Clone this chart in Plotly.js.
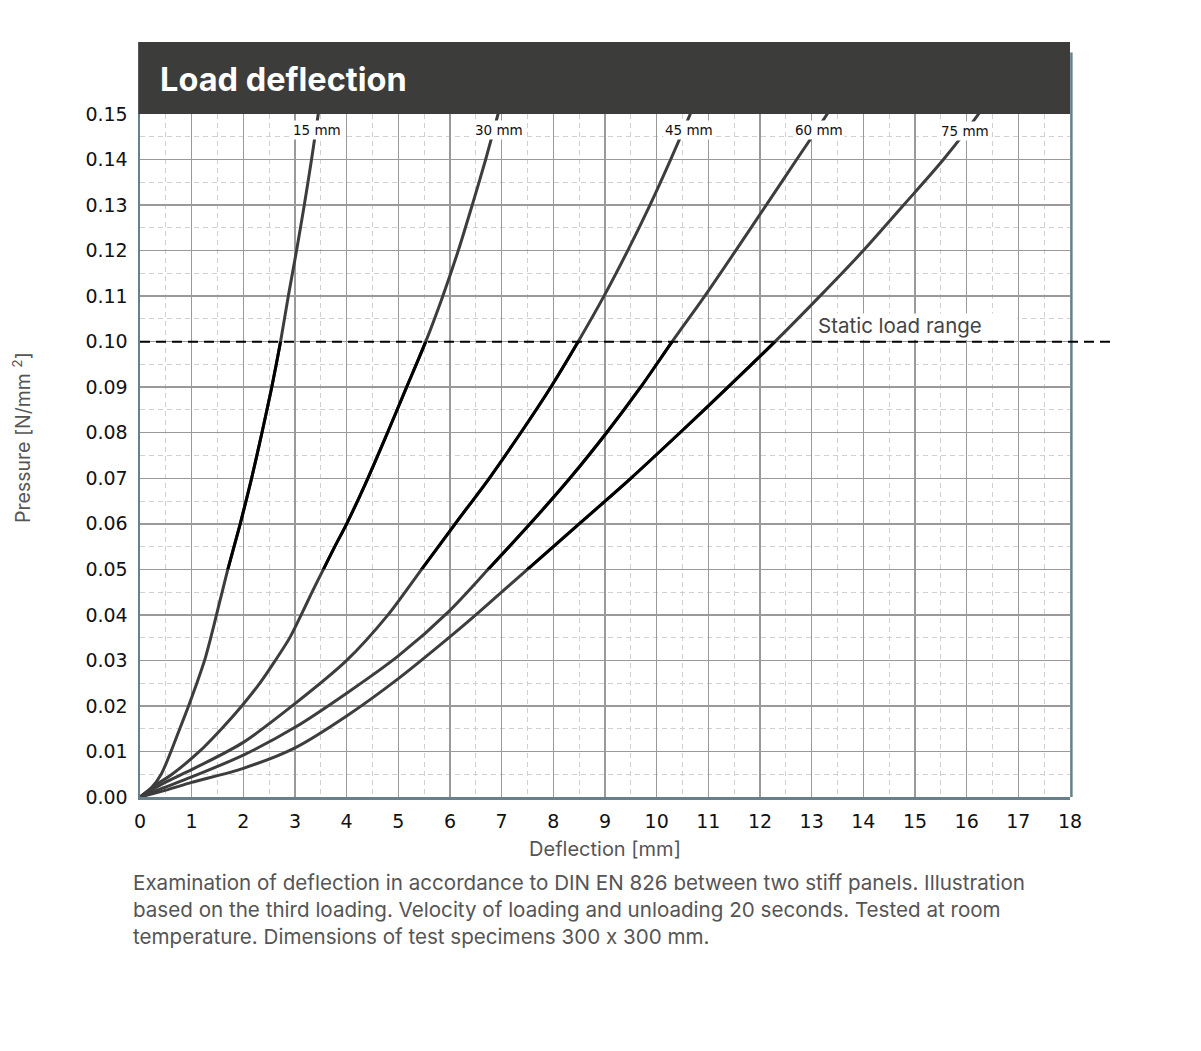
<!DOCTYPE html>
<html>
<head>
<meta charset="utf-8">
<script src="https://cdn.plot.ly/plotly-3.0.1.min.js"></script>
<style>
html,body{margin:0;padding:0;background:#fff;}
#chart{width:1201px;height:1051px;}
#chart text{font-feature-settings:"calt" 0;}
</style>
</head>
<body>
<div id="chart"></div>
<script>
// ---- Data ----
const seriesNames = ['15 mm', '30 mm', '45 mm', '60 mm', '75 mm'];

const pressure15   = [0, 0.002, 0.005, 0.01, 0.015, 0.02, 0.025, 0.03, 0.035, 0.04, 0.045, 0.05, 0.06, 0.07, 0.08, 0.09, 0.10, 0.11, 0.12, 0.13, 0.14, 0.15, 0.153];
const deflection15 = [0, 0.22, 0.41, 0.60, 0.77, 0.94, 1.10, 1.25, 1.37, 1.48, 1.59, 1.70, 1.94, 2.16, 2.36, 2.55, 2.72, 2.87, 3.03, 3.18, 3.32, 3.45, 3.49];

const pressure30   = [0, 0.003, 0.005, 0.01, 0.015, 0.02, 0.025, 0.03, 0.035, 0.04, 0.045, 0.05, 0.055, 0.06, 0.07, 0.08, 0.09, 0.10, 0.11, 0.12, 0.13, 0.14, 0.15, 0.153];
const deflection30 = [0, 0.35, 0.62, 1.15, 1.58, 1.97, 2.32, 2.62, 2.90, 3.12, 3.33, 3.55, 3.77, 4.00, 4.41, 4.79, 5.16, 5.53, 5.86, 6.16, 6.43, 6.69, 6.93, 7.00];

const pressure45   = [0, 0.003, 0.006, 0.012, 0.0205, 0.03, 0.04, 0.05, 0.06, 0.07, 0.08, 0.09, 0.10, 0.11, 0.12, 0.13, 0.14, 0.15, 0.153];
const deflection45 = [0, 0.45, 1.00, 2.00, 3.00, 4.00, 4.80, 5.45, 6.10, 6.76, 7.37, 7.95, 8.48, 8.98, 9.44, 9.87, 10.27, 10.65, 10.75];

const pressure60   = [0, 0.002, 0.0044, 0.0092, 0.0153, 0.0228, 0.031, 0.041, 0.05, 0.06, 0.07, 0.08, 0.09, 0.10, 0.11, 0.12, 0.13, 0.14, 0.15, 0.153];
const deflection60 = [0, 0.45, 1.00, 2.00, 3.00, 4.00, 5.00, 6.00, 6.74, 7.55, 8.32, 9.03, 9.69, 10.30, 10.93, 11.53, 12.12, 12.71, 13.30, 13.45];

const pressure75   = [0, 0.0015, 0.0032, 0.0063, 0.0108, 0.0178, 0.026, 0.035, 0.04, 0.05, 0.06, 0.07, 0.08, 0.09, 0.10, 0.11, 0.12, 0.13, 0.14, 0.15, 0.153];
const deflection75 = [0, 0.50, 1.00, 2.00, 3.00, 4.00, 5.00, 5.98, 6.50, 7.50, 8.50, 9.50, 10.45, 11.38, 12.29, 13.16, 14.00, 14.78, 15.55, 16.23, 16.40];

const staticLoad = 0.10;
const bandLow = 0.05;
const staticLoadLabel = 'Static load range';
const xTicks = [0,1,2,3,4,5,6,7,8,9,10,11,12,13,14,15,16,17,18];
const yTicks = [0,0.01,0.02,0.03,0.04,0.05,0.06,0.07,0.08,0.09,0.10,0.11,0.12,0.13,0.14,0.15];
const captionLines = [
  'Examination of deflection in accordance to DIN EN 826 between two stiff panels. Illustration',
  'based on the third loading. Velocity of loading and unloading 20 seconds. Tested at room',
  'temperature. Dimensions of test specimens 300 x 300 mm.'
];

// ---- Build traces ----
const series = [
  {name: seriesNames[0], x: deflection15, y: pressure15},
  {name: seriesNames[1], x: deflection30, y: pressure30},
  {name: seriesNames[2], x: deflection45, y: pressure45},
  {name: seriesNames[3], x: deflection60, y: pressure60},
  {name: seriesNames[4], x: deflection75, y: pressure75}
];

const traces = [];
series.forEach(s => {
  traces.push({
    type: 'scatter', mode: 'lines', name: s.name, x: s.x, y: s.y,
    xaxis: 'x', yaxis: 'y',
    line: {color: '#3d3d3d', width: 3, shape: 'spline', smoothing: 0.8},
    hoverinfo: 'skip', showlegend: false
  });
});
// same curves drawn black, clipped to the 0.05–0.10 band by a second subplot
series.forEach(s => {
  traces.push({
    type: 'scatter', mode: 'lines', name: s.name + ' band', x: s.x, y: s.y,
    xaxis: 'x2', yaxis: 'y2',
    line: {color: '#000000', width: 3, shape: 'spline', smoothing: 0.8},
    hoverinfo: 'skip', showlegend: false
  });
});

// label placement (layout only)
const labelPos = [[3.43, 0.1464], [6.95, 0.1464], [10.63, 0.1464], [13.14, 0.1464], [15.97, 0.1462]];

const annotations = seriesNames.map((n, i) => ({
  x: labelPos[i][0], y: labelPos[i][1], xref: 'x', yref: 'y',
  text: n, showarrow: false, bgcolor: '#ffffff', borderpad: 1,
  font: {family: 'DejaVu Sans, sans-serif', size: 13.5, color: '#111'}
}));

annotations.push({
  x: 13.08, y: 0.1036, xref: 'x', yref: 'y', xanchor: 'left', yanchor: 'middle',
  text: staticLoadLabel, showarrow: false,
  font: {family: 'Inter, sans-serif', size: 20.5, color: '#444'}
});

annotations.push({
  x: -0.127, y: 0.527, xref: 'paper', yref: 'paper', xanchor: 'center', yanchor: 'middle',
  text: 'Pressure [N/mm <sup>2</sup>]', textangle: -90, showarrow: false,
  font: {family: 'Inter, sans-serif', size: 19.5, color: '#555'}
});

captionLines.forEach((t, i) => {
  annotations.push({
    x: -0.0097, y: -0.125 - i * 0.0396, xref: 'paper', yref: 'paper',
    xanchor: 'left', yanchor: 'middle', align: 'left',
    text: t, showarrow: false,
    font: {family: 'Inter, sans-serif', size: 20.6, color: '#555'}
  });
});

const axisLine = '#66808c';
const minorGrid = {showgrid: true, gridcolor: '#d0d0d0', griddash: '5px,4px', gridwidth: 1};

const layout = {
  width: 1201, height: 1051,
  margin: {l: 140, r: 131, t: 114, b: 254},
  paper_bgcolor: '#ffffff', plot_bgcolor: 'rgba(0,0,0,0)',
  showlegend: false,
  title: {
    text: '<b>Load deflection</b>',
    x: 160 / 1201, xref: 'container', xanchor: 'left',
    y: 1 - 80 / 1051, yref: 'container', yanchor: 'middle',
    font: {family: 'Inter, sans-serif', size: 32.5, color: '#ffffff'}
  },
  xaxis: {
    domain: [0, 1], range: [0, 18], tickvals: xTicks, ticktext: xTicks.map(String),
    showgrid: true, gridcolor: '#9a9a9a', gridwidth: 1.5,
    minor: Object.assign({dtick: 0.5}, minorGrid),
    zeroline: false, showline: true, linecolor: axisLine, linewidth: 3,
    ticks: '', ticklabelstandoff: 5,
    tickfont: {family: 'DejaVu Sans, sans-serif', size: 19, color: '#111'},
    title: {text: 'Deflection [mm]', font: {family: 'Inter, sans-serif', size: 20, color: '#555'}, standoff: 12},
    fixedrange: true
  },
  yaxis: {
    domain: [0, 1], range: [0, 0.15], tickvals: yTicks, ticktext: yTicks.map(v => v.toFixed(2)),
    showgrid: true, gridcolor: '#9a9a9a', gridwidth: 1.5,
    minor: Object.assign({dtick: 0.005}, minorGrid),
    zeroline: false, showline: true, linecolor: axisLine, linewidth: 2.5,
    ticks: '', ticklabelstandoff: 6,
    tickfont: {family: 'DejaVu Sans, sans-serif', size: 19, color: '#111'},
    fixedrange: true
  },
  xaxis2: {domain: [0, 1], range: [0, 18], anchor: 'y2', visible: false, showgrid: false, zeroline: false, fixedrange: true},
  yaxis2: {domain: [bandLow / 0.15, staticLoad / 0.15], range: [bandLow, staticLoad], anchor: 'x2', visible: false, showgrid: false, zeroline: false, fixedrange: true},
  shapes: [
    {type: 'rect', xref: 'x', yref: 'y', x0: 13.05, x1: 16.98, y0: 0.1004, y1: 0.1062,
     fillcolor: '#ffffff', line: {width: 0}, layer: 'between'},
    {type: 'line', xref: 'paper', yref: 'paper', x0: 1.0015, x1: 1.0015, y0: 0, y1: 1.09,
     line: {color: axisLine, width: 2.5}, layer: 'above'},
    {type: 'rect', xref: 'paper', yref: 'paper', x0: -0.002, x1: 1.0, y0: 1.0, y1: 1 + 72 / 683,
     fillcolor: '#3c3c3a', line: {width: 0}, layer: 'above'},
    {type: 'line', xref: 'paper', yref: 'y', x0: 0, x1: 1.046, y0: staticLoad, y1: staticLoad,
     line: {color: '#000000', width: 2, dash: '10px,6px'}, layer: 'above'}
  ],
  annotations: annotations
};

Plotly.newPlot('chart', traces, layout, {displayModeBar: false, staticPlot: true});
</script>
</body>
</html>
